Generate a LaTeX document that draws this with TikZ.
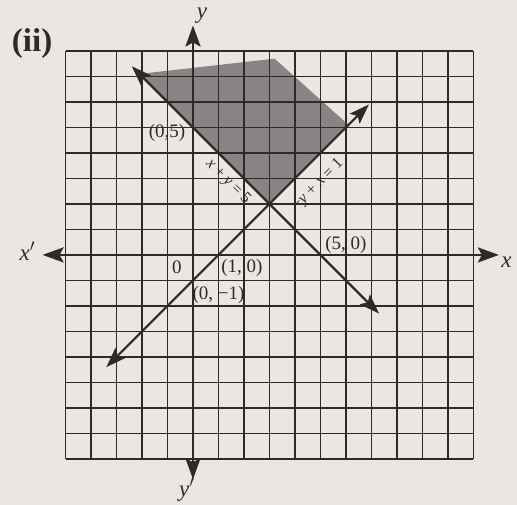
\documentclass[tikz,border=0pt]{standalone}
\usepackage{fontspec}
\setmainfont{Liberation Serif}
\usetikzlibrary{arrows.meta}
\definecolor{paper}{RGB}{234,230,228}
\definecolor{ink}{RGB}{45,42,42}
\definecolor{shadegray}{RGB}{138,131,131}
\begin{document}
\begin{tikzpicture}[x=25.5pt,y=25.5pt,
  gridline/.style={ink, line width=1.4pt},
  axisline/.style={ink, line width=2.6pt, {Stealth[length=21pt,width=15pt,inset=4pt]}-{Stealth[length=21pt,width=15pt,inset=4pt]}},
  graphline/.style={ink, line width=2.2pt, {Stealth[length=20pt,width=14pt,inset=4pt]}-{Stealth[length=20pt,width=14pt,inset=4pt]}},
  lbl/.style={font=\fontsize{19}{19}\selectfont, text=ink, inner sep=1pt},
  eqlbl/.style={font=\fontsize{16}{16}\selectfont, text=ink, inner sep=0pt},
  axlbl/.style={font=\fontsize{23}{23}\selectfont\itshape, text=ink, inner sep=1pt}]
\fill[paper] (-7.57,-9.80) rectangle (12.71,10.0);
\useasboundingbox (-7.57,-9.80) rectangle (12.71,10.0);
% feasible region
\fill[shadegray] (3,2) -- (-2.1,7.1) -- (3.2,7.7) -- (6.1,5.1) -- cycle;
% grid
\draw[gridline, xstep=1, ystep=1] (-5,-8) grid (11,8);
% axes
\coordinate (xl) at (-5.9,0);
\coordinate (xr) at (12.0,0);
\coordinate (yb) at (0,-8.8);
\coordinate (yt) at (0,9.0);
\draw[axisline] (xl) -- (xr);
\draw[axisline] (yb) -- (yt);
% graph lines
\coordinate (a1) at (-2.4,7.4);
\coordinate (a2) at (7.3,-2.3);
\coordinate (b1) at (-3.4,-4.4);
\coordinate (b2) at (6.9,5.9);
\draw[graphline] (a1) -- (a2);
\draw[graphline] (b1) -- (b2);
% labels
\node[font=\fontsize{33}{33}\selectfont\bfseries, text=ink] (tag) at (-6.31,8.3) {(ii)};
\node[axlbl] (lx) at (12.3,-0.3) {x};
\node[axlbl] (lxp) at (-6.5,0.15) {x$'$};
\node[axlbl] (ly) at (0.35,9.4) {y};
\node[axlbl] (lyp) at (-0.24,-9.2) {y$'$};
\node[lbl] (p05) at (-1.02,4.78) {(0,5)};
\node[lbl] (p00) at (-0.63,-0.47) {0};
\node[lbl] (p10) at (1.92,-0.51) {(1, 0)};
\node[lbl] (p0m1) at (1.0,-1.55) {(0, −1)};
\node[lbl] (p50) at (6.0,0.39) {(5, 0)};
\node[eqlbl, rotate=-45] (la) at (1.37,2.86) {\textit{x} + \textit{y} = 5};
\node[eqlbl, rotate=45] (lb) at (4.9,2.75) {−\textit{y} + \textit{x} = 1};
\end{tikzpicture}
\end{document}
